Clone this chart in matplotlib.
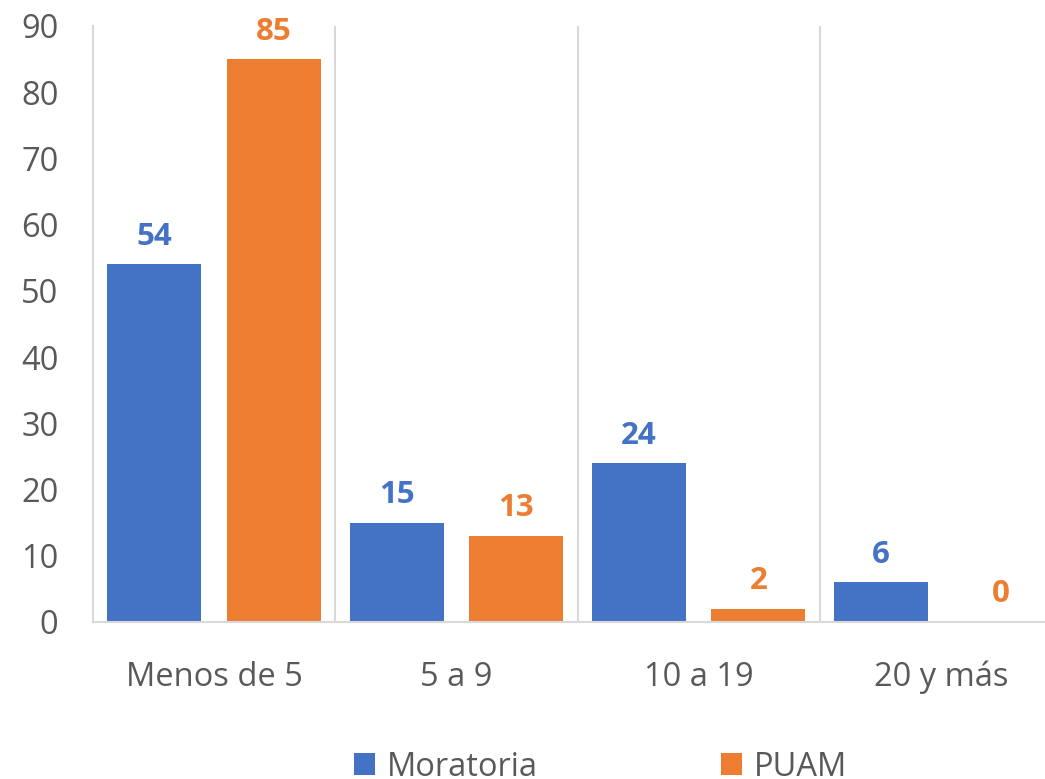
import matplotlib.pyplot as plt
import numpy as np

categories = ["Menos de 5", "5 a 9", "10 a 19", "20 y más"]
moratoria = [54, 15, 24, 6]
puam = [85, 13, 2, 0]

blue = "#4472C4"
orange = "#ED7D31"
gray_text = "#595959"
grid_gray = "#D9D9D9"

plt.rcParams["font.family"] = ["Open Sans", "DejaVu Sans"]

fig = plt.figure(figsize=(10.45, 7.79), dpi=100)
ax = fig.add_axes([93 / 1045, 157 / 779, 969 / 1045, 596 / 779])

x = np.arange(len(categories))
width = 0.388
offset = 0.247
b1 = ax.bar(x - offset, moratoria, width, color=blue, label="Moratoria")
b2 = ax.bar(x + offset, puam, width, color=orange, label="PUAM")

for bars, vals, col in [(b1, moratoria, blue), (b2, puam, orange)]:
    for rect, v in zip(bars, vals):
        ax.annotate(str(v), (rect.get_x() + rect.get_width() / 2, v),
                    xytext=(0, 9), textcoords="offset points",
                    ha="center", va="bottom", fontsize=22.5, fontweight="bold",
                    color=col)

ax.set_xlim(-0.5, 3.5)
ax.set_ylim(0, 90)
ax.set_yticks(range(0, 91, 10))
ax.set_xticks(x)
ax.set_xticklabels(categories)

for xv in [0.5, 1.5, 2.5]:
    ax.axvline(xv, color=grid_gray, lw=1.5, zorder=0)

for s in ["top", "right"]:
    ax.spines[s].set_visible(False)
ax.spines["left"].set_color(grid_gray)
ax.spines["left"].set_linewidth(1.5)
ax.spines["bottom"].set_color(grid_gray)
ax.spines["bottom"].set_linewidth(1.5)

ax.tick_params(axis="both", length=0, labelsize=23.5, labelcolor=gray_text)
ax.tick_params(axis="x", pad=28)
ax.tick_params(axis="y", pad=25)

fig.legend(handles=[b1, b2], loc="center left",
           bbox_to_anchor=(354 / 1045, 12 / 779), ncol=2, frameon=False,
           fontsize=23.5, labelcolor=gray_text, handlelength=0.64,
           handleheight=0.64, handletextpad=0.37, columnspacing=5.6,
           borderpad=0, borderaxespad=0)

fig.savefig("out.png", dpi=100)
